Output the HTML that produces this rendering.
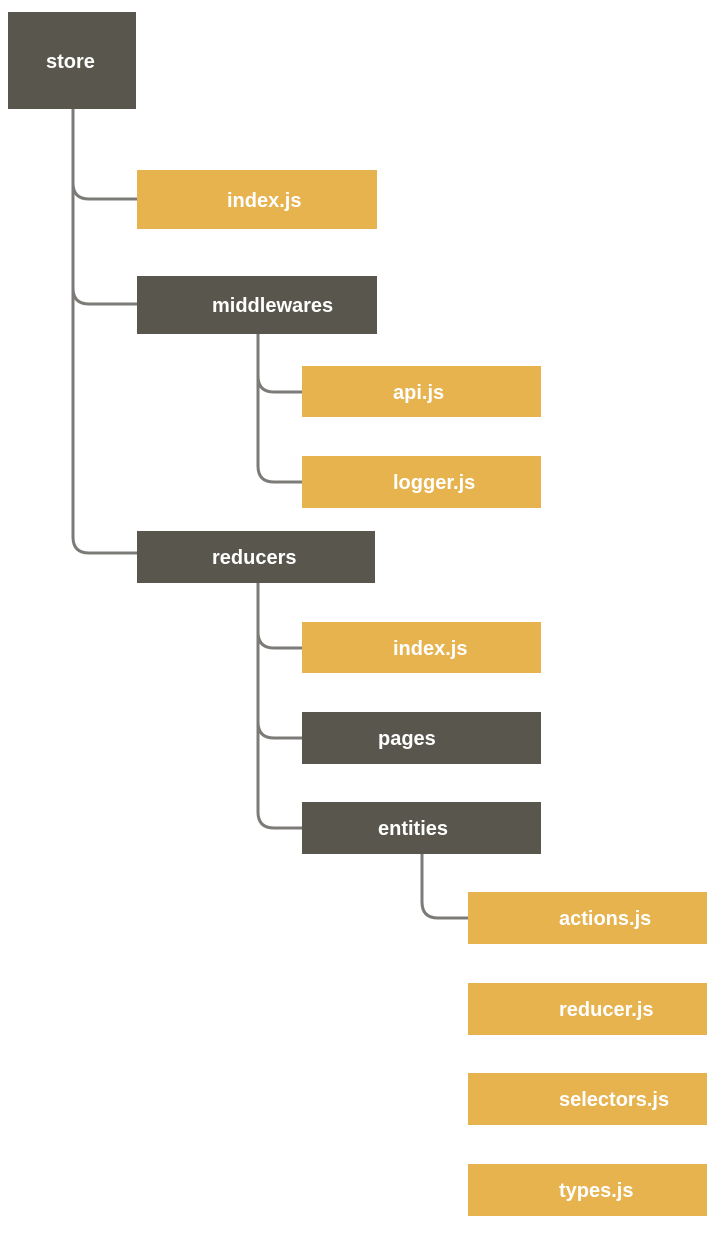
<!DOCTYPE html>
<html><head><style>
body{margin:0;width:722px;height:1236px;background:#fff;position:relative;overflow:hidden;font-family:"Liberation Sans",sans-serif}
.b{position:absolute;color:#fff;font-weight:bold;font-size:20px;display:flex;align-items:center;box-sizing:border-box;padding-top:3px}
.d{background:#59574d}.y{background:#e6b34f}
svg{position:absolute;left:0;top:0}
</style></head><body>
<svg width="722" height="1236" fill="none" stroke="#7c7b78" stroke-width="3">
<path d="M73 109 V537 Q73 553 89 553 H137"/>
<path d="M73 183 Q73 199 89 199 H137"/>
<path d="M73 288 Q73 304 89 304 H137"/>
<path d="M258 334 V466 Q258 482 274 482 H302"/>
<path d="M258 376 Q258 392 274 392 H302"/>
<path d="M258 583 V812 Q258 828 274 828 H302"/>
<path d="M258 632 Q258 648 274 648 H302"/>
<path d="M258 722 Q258 738 274 738 H302"/>
<path d="M422 854 V902 Q422 918 438 918 H468"/>
</svg>
<div class="b d" style="left:8px;top:12px;width:128px;height:97px;padding-left:38px">store</div>
<div class="b y" style="left:137px;top:170px;width:240px;height:59px;padding-left:90px">index.js</div>
<div class="b d" style="left:137px;top:276px;width:240px;height:58px;padding-left:75px">middlewares</div>
<div class="b y" style="left:302px;top:366px;width:239px;height:51px;padding-left:91px">api.js</div>
<div class="b y" style="left:302px;top:456px;width:239px;height:52px;padding-left:91px">logger.js</div>
<div class="b d" style="left:137px;top:531px;width:238px;height:52px;padding-left:75px">reducers</div>
<div class="b y" style="left:302px;top:622px;width:239px;height:51px;padding-left:91px">index.js</div>
<div class="b d" style="left:302px;top:712px;width:239px;height:52px;padding-left:76px">pages</div>
<div class="b d" style="left:302px;top:802px;width:239px;height:52px;padding-left:76px">entities</div>
<div class="b y" style="left:468px;top:892px;width:239px;height:52px;padding-left:91px">actions.js</div>
<div class="b y" style="left:468px;top:983px;width:239px;height:52px;padding-left:91px">reducer.js</div>
<div class="b y" style="left:468px;top:1073px;width:239px;height:52px;padding-left:91px">selectors.js</div>
<div class="b y" style="left:468px;top:1164px;width:239px;height:52px;padding-left:91px">types.js</div>
</body></html>
